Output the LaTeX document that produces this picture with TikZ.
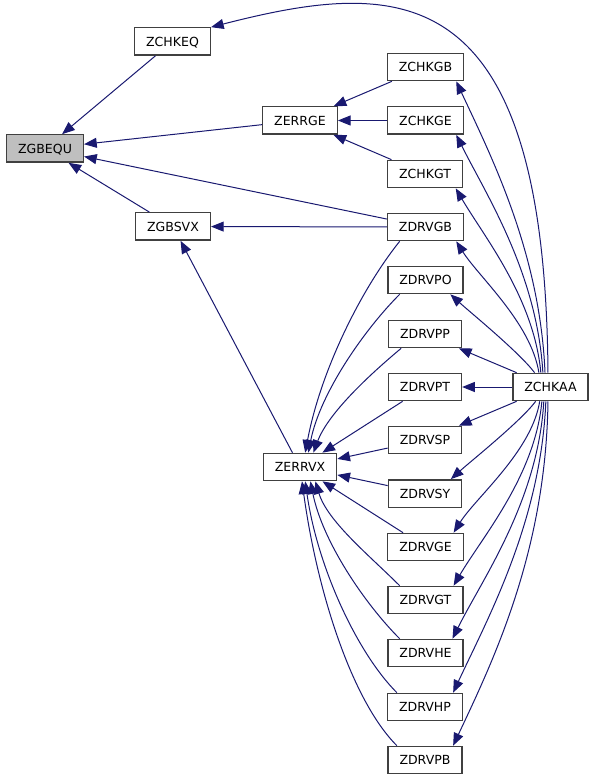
\documentclass[tikz,border=0pt]{standalone}
\usepackage{fontspec}
\setmainfont{DejaVu Sans}
\usetikzlibrary{arrows.meta,positioning}
\definecolor{edgeblue}{HTML}{191970}
\definecolor{boxgray}{HTML}{BFBFBF}
\tikzset{
	fn/.style={draw=black!75, line width=1pt, fill=white, inner xsep=8.6pt, inner ysep=0pt,
		minimum height=20.5pt, text height=6.9pt, text depth=0pt, font=\fontsize{9.4}{11}\selectfont},
	call/.style={edgeblue, line width=0.75pt, -{Triangle[length=9.5pt,width=7.5pt]}},
}

\begin{document}
\begin{tikzpicture}[x=0.75pt,y=-0.75pt]
\useasboundingbox (0,0) rectangle (595,780);
% the boxes
\node[fn, fill=boxgray] at (45,148.5) (gbequ) {ZGBEQU};
\node[fn] at (172.5,41.5) (chkeq) {ZCHKEQ};
\node[fn] at (173,226.5) (gbsvx) {ZGBSVX};
\node[fn] at (300,120.5) (errge) {ZERRGE};
\node[fn] at (300,467) (errvx) {ZERRVX};
\node[fn] at (425.5,67) (chkgb) {ZCHKGB};
\node[fn] at (425.5,120.5) (chkge) {ZCHKGE};
\node[fn] at (425,174) (chkgt) {ZCHKGT};
\node[fn] at (425.5,227) (drvgb) {ZDRVGB};
\node[fn] at (425.5,280) (drvpo) {ZDRVPO};
\node[fn] at (425,334) (drvpp) {ZDRVPP};
\node[fn] at (425,387) (drvpt) {ZDRVPT};
\node[fn] at (425,440) (drvsp) {ZDRVSP};
\node[fn] at (425,493.5) (drvsy) {ZDRVSY};
\node[fn] at (425.5,547) (drvge) {ZDRVGE};
\node[fn] at (425.5,600) (drvgt) {ZDRVGT};
\node[fn] at (425.5,653) (drvhe) {ZDRVHE};
\node[fn] at (425,707) (drvhp) {ZDRVHP};
\node[fn] at (425,760) (drvpb) {ZDRVPB};
\node[fn] at (550.5,387) (chkaa) {ZCHKAA};

% the straight calls
\draw[call] (chkeq) -- (gbequ);
\draw[call] (errge) -- (gbequ);
\draw[call] (drvgb) -- (gbequ);
\draw[call] (gbsvx) -- (gbequ);
\draw[call] (chkgb) -- (errge);
\draw[call] (chkge) -- (errge);
\draw[call] (chkgt) -- (errge);
\draw[call] (drvgb) -- (gbsvx);
\draw[call] (errvx) -- (gbsvx);
\draw[call] (chkaa) -- (drvpp);
\draw[call] (chkaa) -- (drvpt);
\draw[call] (chkaa) -- (drvsp);
\draw[call] (drvpt) -- (errvx);
\draw[call] (drvsp) -- (errvx);
\draw[call] (drvsy) -- (errvx);
\draw[call] (drvge) -- (errvx);

% the curved calls into ZERRVX
\draw[call] (drvgb.-151) .. controls +(-40,50) and +(15,-80) .. (errvx.70);
\draw[call] (drvpo.-151) .. controls +(-35,35) and +(12,-60) .. (errvx.60);
\draw[call] (drvpp.-149) .. controls +(-30,25) and +(15,-40) .. (errvx.47);
\draw[call] (drvgt.151) .. controls +(-30,-30) and +(12,40) .. (errvx.-43);
\draw[call] (drvhe.151) .. controls +(-35,-35) and +(12,60) .. (errvx.-54);
\draw[call] (drvhp.153) .. controls +(-40,-40) and +(12,85) .. (errvx.-70);
\draw[call] (drvpb.153) .. controls +(-45,-45) and +(15,110) .. (errvx.-82);

% the curved calls out of ZCHKAA
\draw[call] (chkaa.100) .. controls +(-3,-400) and +(187,-48) .. (chkeq.north east);
\draw[call] (chkaa.111) .. controls +(-5,-120) and +(35,75) .. (chkgb.-25);
\draw[call] (chkaa.118) .. controls +(-6,-100) and +(30,60) .. (chkge.-25);
\draw[call] (chkaa.124) .. controls +(-7,-75) and +(28,48) .. (chkgt.-25);
\draw[call] (chkaa.129) .. controls +(-8,-50) and +(22,35) .. (drvgb.-25);
\draw[call] (chkaa.138) .. controls +(-15,-20) and +(20,18) .. (drvpo.-30);
\draw[call] (chkaa.-136) .. controls +(-15,20) and +(20,-18) .. (drvsy.29);
\draw[call] (chkaa.-127) .. controls +(-8,50) and +(22,-35) .. (drvge.27);
\draw[call] (chkaa.-121) .. controls +(-7,75) and +(28,-48) .. (drvgt.27);
\draw[call] (chkaa.-115) .. controls +(-6,100) and +(30,-60) .. (drvhe.28);
\draw[call] (chkaa.-108) .. controls +(-5,120) and +(35,-75) .. (drvhp.27);
\draw[call] (chkaa.-100) .. controls +(-2,150) and +(40,-85) .. (drvpb.27);
\end{tikzpicture}
\end{document}
